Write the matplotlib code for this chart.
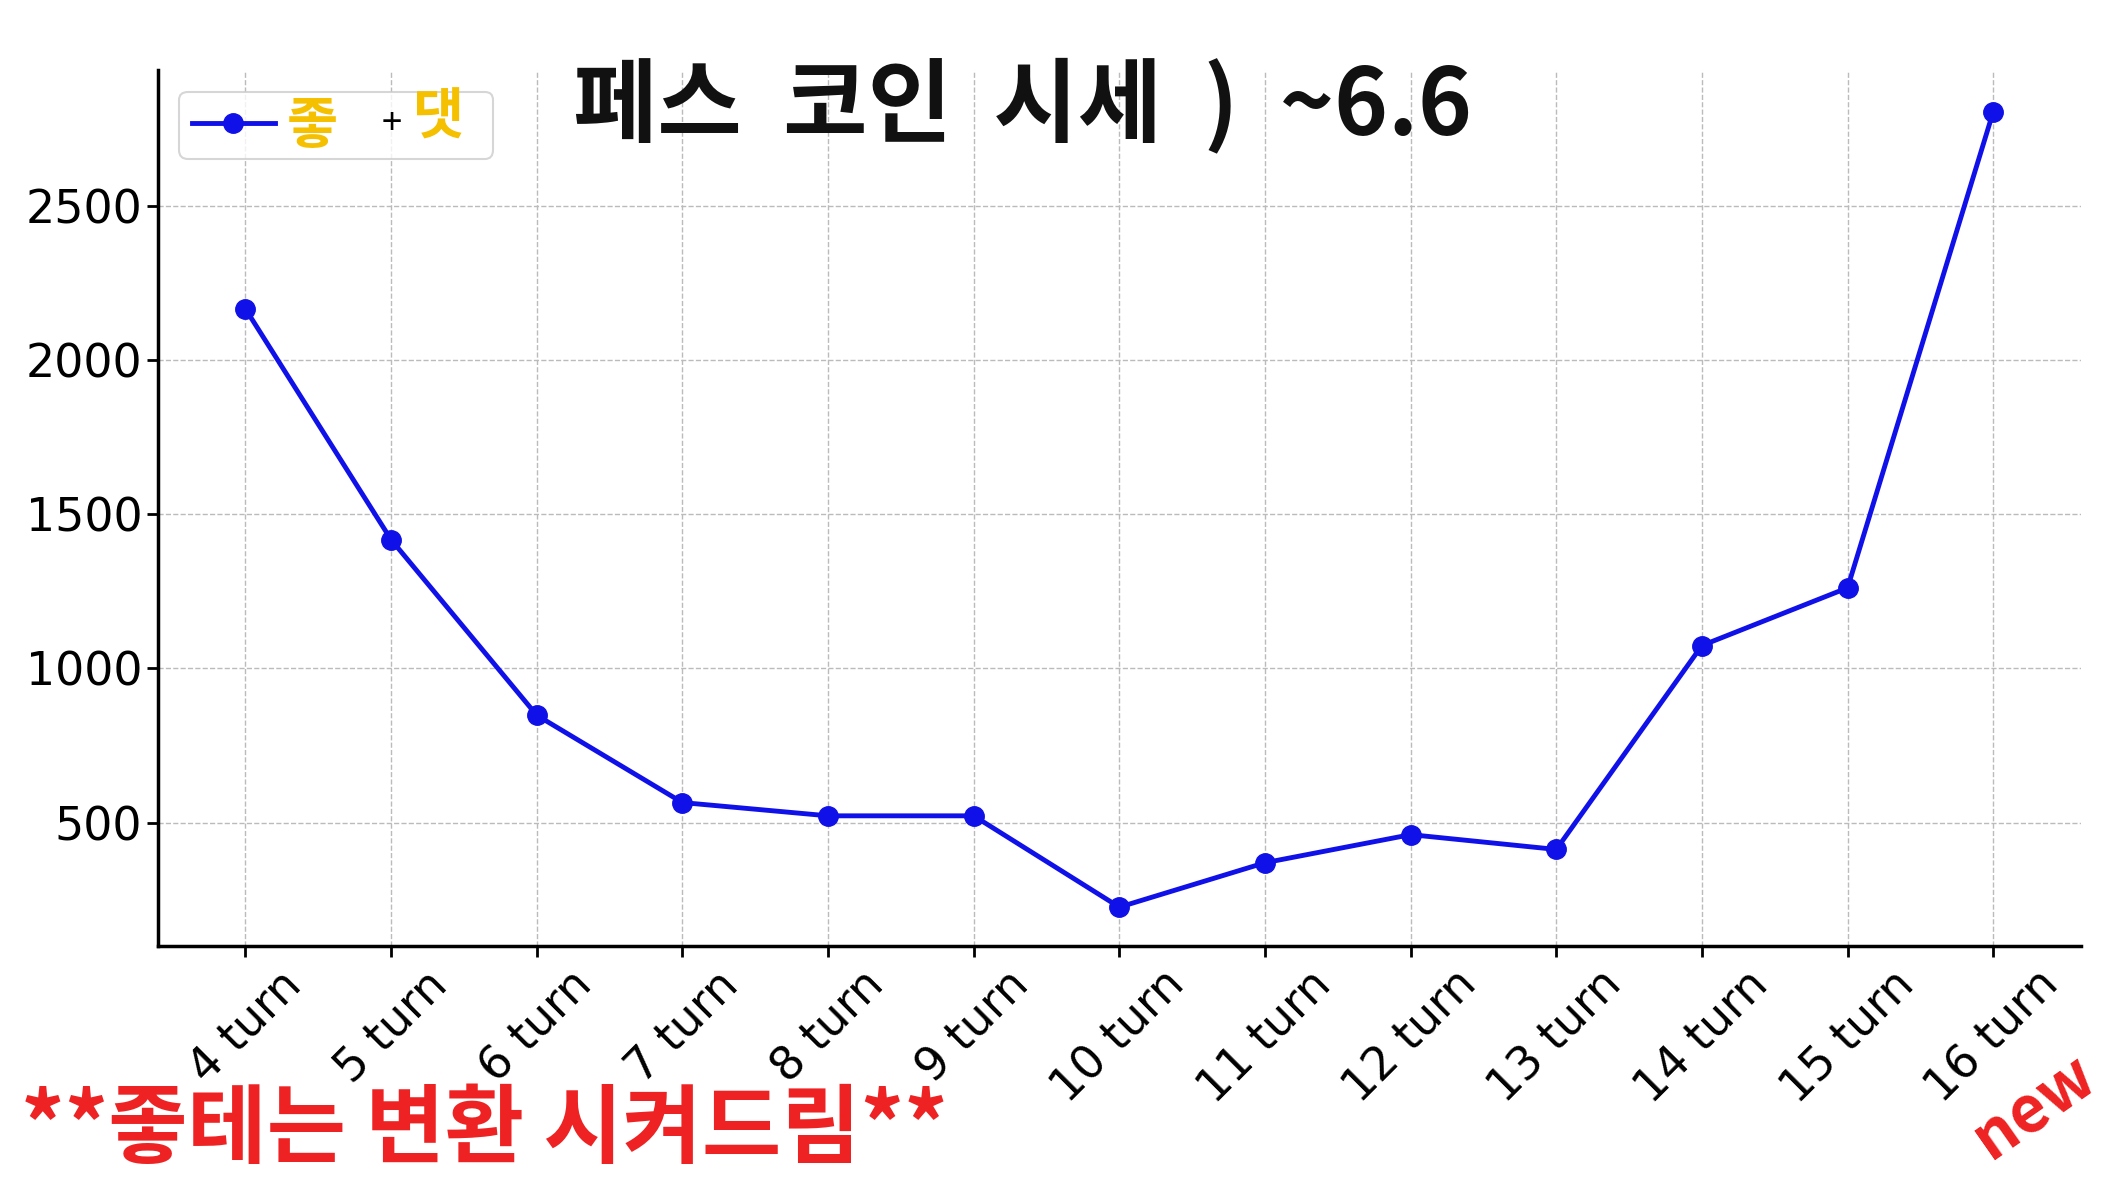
import matplotlib
matplotlib.use("Agg")
import matplotlib.pyplot as plt

plt.rcParams['font.family'] = ['Noto Sans CJK KR', 'DejaVu Sans']

turns = ['4 turn', '5 turn', '6 turn', '7 turn', '8 turn', '9 turn', '10 turn',
         '11 turn', '12 turn', '13 turn', '14 turn', '15 turn', '16 turn']
values = [2165, 1417, 848, 565, 522, 522, 226, 370, 461, 413, 1074, 1261, 2804]

fig = plt.figure(figsize=(21.08, 11.84), dpi=100)
ax = fig.add_axes([0.075, 0.201, 0.912, 0.74])

x = list(range(len(turns)))
ax.plot(x, values, 'o-', color='#1010e8', lw=3.5, ms=14, label='             ')
ax.set_xlim(-0.6, 12.6)
ax.set_ylim(100, 2940)
ax.set_yticks([500, 1000, 1500, 2000, 2500])
ax.set_xticks(x)
ax.set_xticklabels(turns, rotation=45, fontsize=33, family='DejaVu Sans')
ax.tick_params(axis='y', labelsize=33, length=8, width=2)
ax.tick_params(axis='x', length=8, width=2)
for lbl in ax.get_yticklabels():
    lbl.set_family('DejaVu Sans')
ax.grid(True, ls='--', color='#bbbbbb', lw=1)
ax.spines['top'].set_visible(False)
ax.spines['right'].set_visible(False)
ax.spines['left'].set_linewidth(2.5)
ax.spines['bottom'].set_linewidth(2.5)

leg = ax.legend(loc='upper left', prop={'family': 'DejaVu Sans', 'size': 30},
                handlelength=2.0, borderpad=0.3, borderaxespad=0,
                bbox_to_anchor=(0.011, 0.975))
leg.get_frame().set_linewidth(1.5)
fig.text(0.136, 0.893, '좋', fontsize=40, weight='bold', color='#f5c000', va='center')
fig.text(0.181, 0.895, '+', fontsize=26, color='black', va='center')
fig.text(0.196, 0.9, '댓', fontsize=40, weight='bold', color='#f5c000', va='center')

fig.text(0.272, 0.91, '페스  코인  시세  )  ~6.6', fontsize=66, weight='bold',
         color='#111111', va='center')
fig.text(0.01, 0.045, '**좋테는 변환 시켜드림**', fontsize=62, weight='bold',
         color='#ee2222', va='center')
fig.text(0.93, 0.065, 'new', fontsize=46, weight='bold', color='#ee2222',
         rotation=35, va='center')

fig.savefig('out.png', dpi=100)
